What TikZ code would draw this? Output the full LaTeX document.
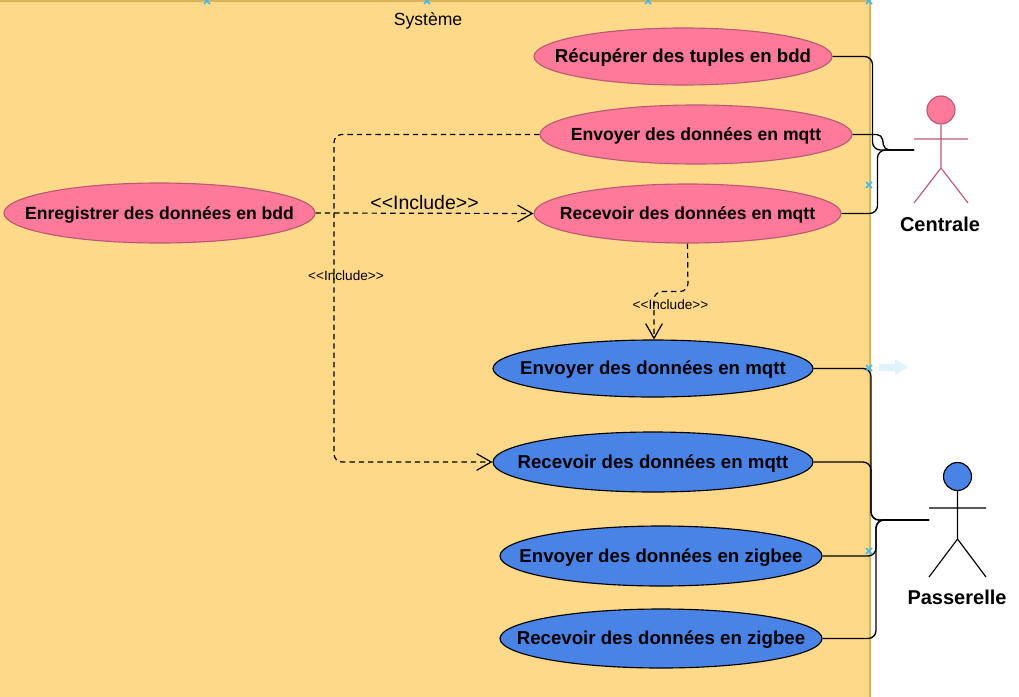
\documentclass[tikz,border=0pt]{standalone}
\usepackage{fontspec}
\setmainfont{Liberation Sans}
\usetikzlibrary{arrows.meta,shapes.geometric}
\definecolor{sysfill}{HTML}{FFD98A}
\definecolor{sysline}{HTML}{D9B25A}
\definecolor{pinkfill}{HTML}{FF7A9A}
\definecolor{pinkline}{HTML}{B85A75}
\definecolor{bluefill}{HTML}{4A83E6}
\definecolor{markblue}{HTML}{3FBCEF}
\definecolor{hintblue}{HTML}{E0F3FC}
\tikzset{
  uc/.style 2 args={ellipse,draw,line width=0.85pt,inner sep=0pt,minimum width=#1*0.75pt,minimum height=#2*0.75pt,font=\fontsize{13.2}{15}\selectfont\bfseries,text=black},
  bigtext/.style={font=\fontsize{14}{16}\selectfont\bfseries},
  pinkuc/.style={fill=pinkfill,draw=pinkline},
  blueuc/.style={fill=bluefill,draw=black},
  conn/.style={draw=black,line width=1pt,rounded corners=6pt},
  incl/.style={draw=black,line width=0.9pt,dash pattern=on 4pt off 3pt,rounded corners=6pt,-{Straight Barb[length=11pt,width=12.5pt,line width=0.9pt]}},
  lbl/.style={inner sep=0pt,text=black},
  actorname/.style={inner sep=0pt,font=\fontsize{15}{18}\selectfont\bfseries,text=black},
  head/.style={circle,inner sep=0pt,minimum size=21pt,line width=0.85pt},
  mk/.style={draw=markblue,line width=1.1pt}
}
\newcommand{\uct}[1]{\makebox[0pt][c]{\raisebox{-4.6pt}[0pt][0pt]{#1}}}
\newcommand{\mkcross}[2]{\draw[mk] (#1-3,#2-3) -- (#1+3,#2+3) (#1-3,#2+3) -- (#1+3,#2-3);}
\begin{document}
\begin{tikzpicture}[x=0.75pt,y=-0.75pt]
\path[use as bounding box,fill=white] (0,0) rectangle (1019,696);
% system
\path[fill=sysfill,draw=sysline,line width=0.8pt] (-3,1) rectangle (870,702);
\node[lbl,font=\fontsize{13.2}{15}\selectfont] (sys) at (428,21) {Système};
% use cases
\node[uc={298}{57},pinkuc,bigtext] (A) at (683,56.5) {\uct{Récupérer des tuples en bdd}};
\node[uc={312}{59},pinkuc] (B) at (696,134.5) {\uct{Envoyer des données en mqtt}};
\node[uc={307}{59},pinkuc] (C) at (687.5,213.5) {\uct{Recevoir des données en mqtt}};
\node[uc={311}{60},pinkuc] (D) at (159.5,213) {\uct{Enregistrer des données en bdd}};
\node[uc={320}{57},blueuc,bigtext] (E) at (653,368.5) {\uct{Envoyer des données en mqtt}};
\node[uc={320}{60},blueuc,bigtext] (F) at (653,462) {\uct{Recevoir des données en mqtt}};
\node[uc={322}{60},blueuc,bigtext] (G) at (661,556) {\uct{Envoyer des données en zigbee}};
\node[uc={322}{59},blueuc,bigtext] (H) at (661,638.5) {\uct{Recevoir des données en zigbee}};
% actors
\coordinate (cport) at (914,150);
\coordinate (pport) at (929,520);
\node[head,fill=pinkfill,draw=pinkline] (ch) at (941,110) {};
\coordinate (chip) at (941,168);
\draw[pinkline,line width=0.85pt] (ch.south) -- (chip) (914,139) -- (968,139) (914,203) -- (chip) -- (968,203);
\node[actorname] (cn) at (940,224) {Centrale};
\node[head,fill=bluefill,draw=black] (ph) at (957.5,476.5) {};
\coordinate (phip) at (957.5,539);
\draw[black,line width=0.85pt] (ph.south) -- (phip) (929,508) -- (986,508) (929,577) -- (phip) -- (986,577);
\node[actorname] (pn) at (957,597) {Passerelle};
% connectors
\draw[conn] (A.east) -- (872.5,56.5) -- (872.5,150) -- (cport);
\draw[conn,rounded corners=4pt] (B.east) -- (882,134.5) -- (884,150) -- (cport);
\draw[conn] (C.east) -- (877.5,213.5) -- (877.5,150) -- (cport);
\draw[conn] (E.east) -- (871,368.5) -- (871,520) -- (pport);
\draw[conn] (F.east) -- (871,462) -- (871,520) -- (pport);
\draw[conn] (G.east) -- (876,556) -- (876,520) -- (pport);
\draw[conn] (H.east) -- (876,638.5) -- (876,520) -- (pport);
% include
\draw[incl] (D.east) -- (C.west);
\draw[incl] (B.west) -- (334,134.5) -- (334,462) -- (F.west);
\draw[incl] (C.south) -- (688,291.5) -- (654,291.5) -- (654,339.5);
\node[lbl,font=\fontsize{14.6}{17}\selectfont] (l1) at (424.5,202.5) {<{}<Include>{}>};
\node[lbl,font=\fontsize{10.2}{12}\selectfont] (l2) at (346,275.5) {<{}<Include>{}>};
\node[lbl,font=\fontsize{10.2}{12}\selectfont] (l3) at (670.5,304.5) {<{}<Include>{}>};
% selection markers
\mkcross{207}{1}\mkcross{427}{1}\mkcross{648}{1}\mkcross{869}{1}
\mkcross{869}{185}\mkcross{869}{368}\mkcross{869}{551}
\path[fill=hintblue] (879,364) -- (895,364) -- (895,359) -- (908,367) -- (895,375) -- (895,371) -- (879,371) -- cycle;
\end{tikzpicture}
\end{document}
